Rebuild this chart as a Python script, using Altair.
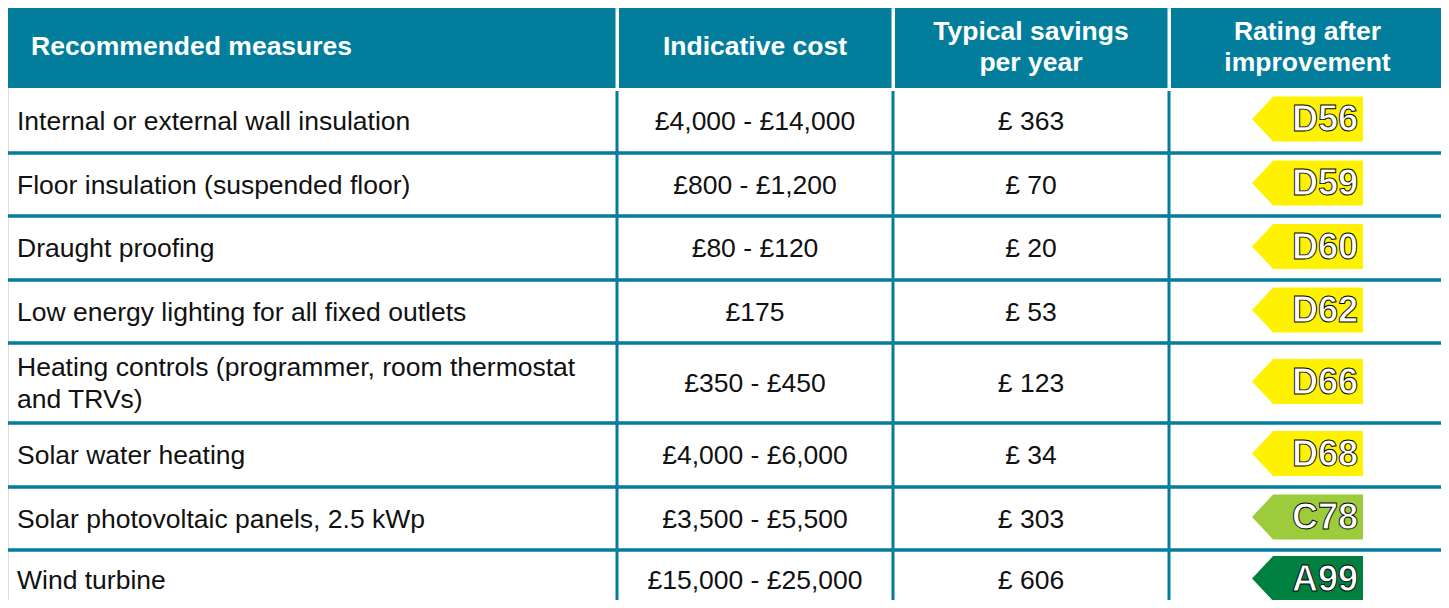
import altair as alt
import pandas as pd

# ---- data ----
headers = ["Recommended measures", "Indicative cost", "Typical savings\nper year", "Rating after\nimprovement"]
measures = [
    "Internal or external wall insulation",
    "Floor insulation (suspended floor)",
    "Draught proofing",
    "Low energy lighting for all fixed outlets",
    "Heating controls (programmer, room thermostat\nand TRVs)",
    "Solar water heating",
    "Solar photovoltaic panels, 2.5 kWp",
    "Wind turbine",
]
costs = ["£4,000 - £14,000", "£800 - £1,200", "£80 - £120", "£175", "£350 - £450",
         "£4,000 - £6,000", "£3,500 - £5,500", "£15,000 - £25,000"]
savings = ["£ 363", "£ 70", "£ 20", "£ 53", "£ 123", "£ 34", "£ 303", "£ 606"]
ratings = ["D56", "D59", "D60", "D62", "D66", "D68", "C78", "A99"]
band_colors = {"A": "#00803e", "C": "#9ccb3b", "D": "#fff200"}

# ---- layout (page pixel coordinates) ----
TEAL = "#027d9c"
FONT = "Liberation Sans"
FS = 26.5
col_edges = [8, 617, 893, 1169, 1446]
row_lines = [88, 153, 216, 280, 343, 423, 487, 550, 610]
header_top, header_bottom = 8, 88
X_MAX, Y_MAX = 1441, 600
LH_HEAD, LH_BODY = 31, 32

xs = alt.Scale(domain=[8, X_MAX], nice=False, zero=False)
ys = alt.Scale(domain=[8, Y_MAX], nice=False, zero=False, reverse=True)

def X(f):
    return alt.X(f, type="quantitative", scale=xs, axis=None)

def Y(f):
    return alt.Y(f, type="quantitative", scale=ys, axis=None)

def nlines(s):
    return s.count("\n") + 1

# header cells
hdr = pd.DataFrame({
    "x": [col_edges[0]] + [c + 2 for c in col_edges[1:4]],
    "x2": [c - 1.5 for c in col_edges[1:4]] + [col_edges[4]],
    "y": [header_top] * 4,
    "y2": [header_bottom] * 4,
})
header_rects = alt.Chart(hdr).mark_rect(color=TEAL).encode(
    x=X("x"), x2="x2", y=Y("y"), y2="y2")

centers = [(row_lines[i] + row_lines[i + 1]) / 2 for i in range(len(measures))]
col_centers = [(col_edges[i] + col_edges[i + 1]) / 2 for i in range(4)]

# header texts
htxt = pd.DataFrame({
    "t": headers,
    "x": [31] + col_centers[1:],
    "y": [47 - (nlines(h) - 1) * LH_HEAD / 2 for h in headers],
})
hkw = dict(baseline="middle", font=FONT, fontSize=FS, fontWeight="bold",
           color="white", lineBreak="\n", lineHeight=LH_HEAD)
header_left = alt.Chart(htxt.iloc[:1]).mark_text(align="left", **hkw).encode(
    x=X("x"), y=Y("y"), text="t")
header_center = alt.Chart(htxt.iloc[1:]).mark_text(align="center", **hkw).encode(
    x=X("x"), y=Y("y"), text="t")

# grid lines
hl = pd.DataFrame({"x": [8] * 7, "x2": [1446] * 7, "y": row_lines[1:8]})
hlines = alt.Chart(hl).mark_rule(color=TEAL, strokeWidth=3.5).encode(
    x=X("x"), x2="x2", y=Y("y"))
vl = pd.DataFrame({"x": col_edges[1:4], "y": [91] * 3, "y2": [Y_MAX + 10] * 3})
vlines = alt.Chart(vl).mark_rule(color=TEAL, strokeWidth=3).encode(
    x=X("x"), y=Y("y"), y2="y2")

# body texts
body = pd.DataFrame({
    "measure": measures, "cost": costs, "saving": savings, "rating": ratings,
    "y": [c + 1 for c in centers],
    "ym": [c + 1 - (nlines(m) - 1) * LH_BODY / 2 for c, m in zip(centers, measures)],
    "yr": [c - 1.5 for c in centers],
    "band": [r[0] for r in ratings],
})
body["xm"] = 17
body["xc"] = col_centers[1]
body["xs"] = col_centers[2]
body["xa"] = 1307.5
body["xt"] = 1358

txt_kw = dict(baseline="middle", font=FONT, fontSize=FS, color="#111111",
              lineBreak="\n", lineHeight=LH_BODY)
t_measure = alt.Chart(body).mark_text(align="left", **txt_kw).encode(
    x=X("xm"), y=Y("ym"), text="measure")
t_cost = alt.Chart(body).mark_text(align="center", **txt_kw).encode(
    x=X("xc"), y=Y("y"), text="cost")
t_save = alt.Chart(body).mark_text(align="center", **txt_kw).encode(
    x=X("xs"), y=Y("y"), text="saving")

# rating arrows
arrow_path = "M -1 0 L -0.62 -0.405 L 1 -0.405 L 1 0.405 L -0.62 0.405 Z"
arrows = alt.Chart(body).mark_point(
    shape=arrow_path, filled=True, opacity=1, strokeWidth=0, size=111 * 111).encode(
    x=X("xa"), y=Y("yr"),
    color=alt.Color("band:N", scale=alt.Scale(domain=list(band_colors.keys()),
                                              range=list(band_colors.values())),
                    legend=None))
rating_txt = alt.Chart(body).mark_text(
    align="right", baseline="middle", font=FONT, fontSize=36, fontWeight="bold",
    color="white", stroke="black", strokeWidth=0.9, dy=1).encode(
    x=X("xt"), y=Y("yr"), text="rating")

chart = alt.layer(
    header_rects, hlines, vlines, header_left, header_center,
    t_measure, t_cost, t_save, arrows, rating_txt
).properties(
    width=X_MAX - 8, height=Y_MAX - 8, padding=0,
    autosize=alt.AutoSizeParams(type="none"),
).configure_view(stroke=None).configure(background="white")

chart.save("out.html", embed_options={"renderer": "svg", "actions": False})
